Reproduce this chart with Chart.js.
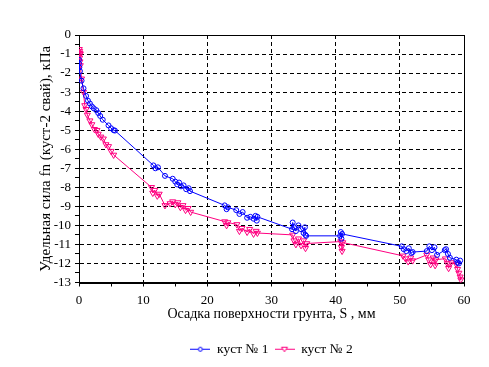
<!DOCTYPE html>
<html>
<head>
<meta charset="utf-8">
<script src="https://cdn.jsdelivr.net/npm/chart.js@4/dist/chart.umd.min.js"></script>
<style>
  html, body { margin: 0; padding: 0; background: #fff; }
  #wrap { width: 489px; height: 367px; }
</style>
</head>
<body>
<div id="wrap"><canvas id="myChart" width="489" height="367"></canvas></div>
<script>
(function () {
  "use strict";

  // куст № 1
  const s1X = [0.0, 0.0, 0.05, 0.15, 0.4, 0.7, 1.1, 1.4, 1.7, 2.0, 2.3, 2.7, 3.0, 3.3, 3.7, 4.6, 5.0, 5.4, 5.6,
    11.6, 11.9, 12.3,
    13.4, 14.6, 15.0, 15.3, 15.6, 15.9, 16.3, 16.7, 17.1, 17.3,
    22.7, 23.0, 23.2, 24.5, 25.0, 25.5, 26.2, 26.7, 27.2, 27.5, 27.7, 27.8,
    33.2, 33.3, 33.5, 33.8, 34.2, 34.6, 35.0, 35.2, 35.3, 35.4,
    40.7, 40.8, 40.9, 41.0,
    50.3, 50.6, 51.0, 51.4, 51.8, 52.0,
    54.2, 54.6, 55.0, 55.4, 55.8,
    57.0, 57.2, 57.5, 57.8,
    58.8, 59.0, 59.2, 59.4];
  const s1Y = [-1.3, -1.5, -1.7, -1.9, -2.4, -2.8, -3.2, -3.45, -3.6, -3.75, -3.85, -3.95, -4.1, -4.25, -4.45, -4.75, -4.9, -5.0, -5.02,
    -6.85, -7.0, -6.95,
    -7.4, -7.55, -7.7, -7.85, -7.75, -7.95, -7.9, -8.1, -8.05, -8.2,
    -8.95, -9.15, -9.05, -9.2, -9.4, -9.3, -9.6, -9.55, -9.65, -9.5, -9.75, -9.55,
    -10.2, -9.85, -10.1, -10.3, -10.0, -10.2, -10.4, -10.1, -10.5, -10.55,
    -10.55, -10.35, -10.7, -10.45,
    -11.1, -11.25, -11.35, -11.2, -11.45, -11.4,
    -11.35, -11.1, -11.3, -11.15, -11.55,
    -11.3, -11.25, -11.5, -11.7,
    -11.8, -11.95, -12.0, -11.85];

  // куст № 2
  const s2X = [0.05, 0.1, 0.15, 0.2, 0.1, 0.15, 0.2, 0.4, 0.7, 0.9, 1.1, 1.3, 1.7, 2.0, 2.4, 2.8, 3.0, 3.4, 3.8, 4.2, 4.6, 5.0, 5.4,
    11.3, 11.5, 11.8, 12.2, 12.5,
    13.4, 14.2, 14.6, 15.0, 15.4, 15.8, 16.2, 16.6, 17.0, 17.4,
    22.7, 23.0, 23.2, 24.6, 25.0, 25.4, 26.2, 26.6, 27.2, 27.6, 27.8,
    33.3, 33.5, 33.8, 34.2, 34.6, 35.0, 35.3, 35.5,
    40.8, 40.9, 41.0, 41.1,
    50.5, 50.9, 51.3, 51.7, 52.0,
    54.2, 54.5, 54.8, 55.2, 55.5, 55.6,
    57.1, 57.4, 57.6, 58.0,
    58.8, 59.0, 59.2, 59.4, 59.5];
  const s2Y = [-0.75, -0.85, -0.95, -1.0, -1.2, -1.4, -1.6, -2.3, -3.0, -3.7, -3.9, -4.2, -4.5, -4.7, -4.95, -5.0, -5.2, -5.35, -5.45, -5.75, -5.85, -6.1, -6.3,
    -8.0, -8.3, -8.15, -8.45, -8.35,
    -8.95, -8.85, -8.75, -8.9, -8.8, -9.05, -8.95, -9.2, -9.1, -9.3,
    -9.8, -10.0, -9.85, -9.95, -10.3, -10.15, -10.35, -10.2, -10.45, -10.3, -10.4,
    -10.5, -10.8, -11.0, -10.7, -11.05, -10.8, -11.2, -10.95,
    -10.85, -11.15, -11.35, -10.9,
    -11.6, -11.75, -11.9, -11.7, -11.85,
    -11.55, -11.8, -12.05, -11.7, -12.1, -11.8,
    -11.75, -12.0, -12.25, -11.95,
    -12.05, -12.3, -12.5, -12.7, -12.85];

  const seriesNames = ["куст № 1", "куст № 2"];
  const xTitle = "Осадка поверхности грунта, S , мм";
  const yTitle = "Удельная сила fn (куст-2 свай), кПа";

  const BLUE = "#0000ff";
  const PINK = "#ff0080";
  const FONT = "'Liberation Serif', 'Times New Roman', serif";

  const toPoints = function (xs, ys) {
    return xs.map(function (x, i) { return { x: x, y: ys[i] }; });
  };

  // small line+marker swatch for the legend
  const makeSwatch = function (color, kind) {
    const c = document.createElement("canvas");
    c.width = 20; c.height = 9;
    const g = c.getContext("2d");
    g.strokeStyle = color;
    g.lineWidth = 1;
    g.beginPath(); g.moveTo(0, 4.5); g.lineTo(20, 4.5); g.stroke();
    g.beginPath();
    if (kind === "circle") {
      g.arc(10, 4.5, 2, 0, Math.PI * 2);
    } else {
      g.moveTo(7, 2.5); g.lineTo(13, 2.5); g.lineTo(10, 7); g.closePath();
    }
    g.fillStyle = "#fff";
    g.fill();
    g.stroke();
    return c;
  };

  const framePlugin = {
    id: "frame",
    beforeDatasetsDraw: function (chart) {
      const a = chart.chartArea;
      const ctx = chart.ctx;
      ctx.save();
      ctx.strokeStyle = "#000";
      ctx.lineWidth = 1;
      ctx.strokeRect(Math.round(a.left) + 0.5, Math.round(a.top) + 0.5,
        Math.round(a.right - a.left), Math.round(a.bottom - a.top));
      ctx.restore();
    }
  };

  Chart.defaults.color = "#000";
  Chart.defaults.font.family = FONT;
  Chart.defaults.font.size = 13;

  const swatches = [makeSwatch(BLUE, "circle"), makeSwatch(PINK, "triangle")];

  new Chart(document.getElementById("myChart"), {
    type: "scatter",
    data: {
      datasets: [
        {
          label: seriesNames[0],
          data: toPoints(s1X, s1Y),
          showLine: true,
          borderColor: BLUE,
          borderWidth: 1,
          pointStyle: "circle",
          pointRadius: 2.5,
          pointBorderWidth: 1,
          pointBorderColor: BLUE,
          pointBackgroundColor: "transparent"
        },
        {
          label: seriesNames[1],
          data: toPoints(s2X, s2Y),
          showLine: true,
          borderColor: PINK,
          borderWidth: 1,
          pointStyle: "triangle",
          pointRotation: 180,
          pointRadius: 3.5,
          pointBorderWidth: 1,
          pointBorderColor: PINK,
          pointBackgroundColor: "transparent"
        }
      ]
    },
    options: {
      responsive: false,
      animation: false,
      devicePixelRatio: 1,
      layout: { padding: { left: 0, right: 25, top: 35, bottom: 1 } },
      plugins: {
        tooltip: { enabled: false },
        legend: {
          position: "bottom",
          fullSize: false,
          labels: {
            usePointStyle: true,
            pointStyleWidth: 20,
            padding: 6,
            font: { size: 13.5, family: FONT },
            generateLabels: function (chart) {
              return chart.data.datasets.map(function (ds, i) {
                return {
                  text: ds.label,
                  pointStyle: swatches[i],
                  fillStyle: ds.borderColor,
                  strokeStyle: ds.borderColor,
                  lineWidth: 0,
                  hidden: false,
                  datasetIndex: i
                };
              });
            }
          }
        }
      },
      scales: {
        x: {
          type: "linear",
          min: 0,
          max: 60,
          afterFit: function (s) { s.height = 54; },
          ticks: {
            stepSize: 5,
            autoSkip: false,
            maxRotation: 0,
            padding: 6,
            callback: function (v) { return v % 10 === 0 ? String(v) : ""; }
          },
          grid: {
            color: function (c) {
              const v = c.tick ? c.tick.value : 0;
              return (v % 10 === 0 && v !== 0 && v !== 60) ? "#000" : "rgba(0,0,0,0)";
            },
            tickColor: "#000",
            tickLength: 4,
            lineWidth: 1
          },
          border: { display: true, color: "#000", width: 1, dash: [4, 3] },
          title: {
            display: true,
            text: xTitle,
            font: { size: 14, family: FONT },
            padding: { top: 0, bottom: 14 }
          }
        },
        y: {
          type: "linear",
          min: -13,
          max: 0,
          afterFit: function (s) { s.width = 79; },
          ticks: {
            stepSize: 0.5,
            autoSkip: false,
            padding: 4,
            callback: function (v) { return Number.isInteger(v) ? String(v) : ""; }
          },
          grid: {
            color: function (c) {
              const v = c.tick ? c.tick.value : 0;
              return (Number.isInteger(v) && v !== 0 && v !== -13) ? "#000" : "rgba(0,0,0,0)";
            },
            tickColor: "#000",
            tickLength: 4,
            lineWidth: 1
          },
          border: { display: true, color: "#000", width: 1, dash: [4, 3] },
          title: {
            display: true,
            text: yTitle,
            font: { size: 15, family: FONT },
            padding: { top: 37, bottom: 0 }
          }
        }
      }
    },
    plugins: [framePlugin]
  });
})();
</script>
</body>
</html>
